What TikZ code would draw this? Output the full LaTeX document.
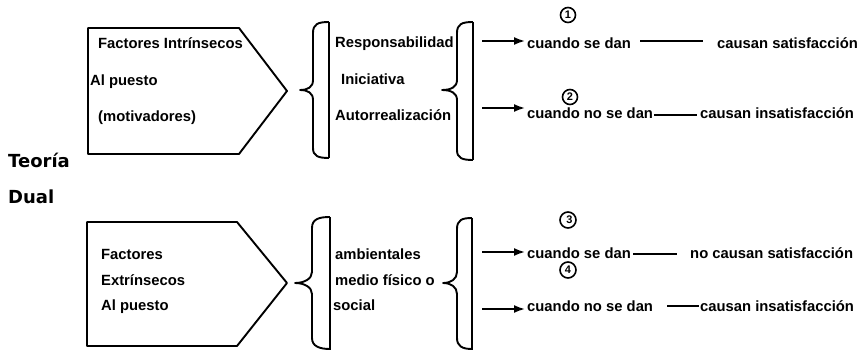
\documentclass[tikz,border=0pt]{standalone}
\usepackage{fontspec}
\setmainfont{Liberation Sans}
\newfontfamily\titlefont{DejaVu Sans}
\usetikzlibrary{arrows.meta}
\begin{document}
\begin{tikzpicture}[x=1pt,y=-1pt,
  txt/.style={font=\fontsize{14.8}{16}\selectfont\bfseries, inner sep=0pt, anchor=west, text height=10.5pt, text depth=3pt},
  ttl/.style={font=\titlefont\fontsize{18}{20}\selectfont\bfseries, inner sep=0pt, anchor=west},
  shp/.style={line width=1.9pt, line join=round},
  arr/.style={line width=1.8pt, -{Latex[length=11pt,width=8pt]}, shorten >=2pt},
  link/.style={line width=1.5pt},
  num/.style={circle, draw, line width=1.6pt, minimum size=15pt, inner sep=0pt, font=\fontsize{11}{11}\selectfont\bfseries}]
\useasboundingbox (0,0) rectangle (867,350);

% pentagons
\draw[shp] (88,28) -- (239,28) -- (287,91) -- (239,154) -- (88,154) -- cycle;
\draw[shp] (87,222) -- (237,222) -- (287,283) -- (237,346) -- (87,346) -- cycle;

% braces
\draw[shp] (329,22) .. controls (318,22) and (313,24) .. (313,33) -- (313,80)
  .. controls (313,87) and (308,90) .. (300,90) .. controls (308,90) and (313,93) .. (313,100)
  -- (313,148) .. controls (313,156) and (318,158) .. (329,158);
\draw[shp] (329,22) -- (329,158);
\draw[shp] (473,22) .. controls (462,22) and (457,24) .. (457,33) -- (457,80)
  .. controls (457,87) and (451,90) .. (442,90) .. controls (451,90) and (457,93) .. (457,100)
  -- (457,150) .. controls (457,158) and (462,160) .. (473,160);
\draw[shp] (473,22) -- (473,160);
\draw[shp] (330,217) .. controls (319,217) and (312,219) .. (312,228) -- (312,272)
  .. controls (312,279) and (304,283) .. (295,283) .. controls (304,283) and (312,287) .. (312,294)
  -- (312,338) .. controls (312,346) and (319,349) .. (330,349);
\draw[shp] (330,217) -- (330,350);
\draw[shp] (472,218) .. controls (462,218) and (457,220) .. (457,229) -- (457,272)
  .. controls (457,279) and (451,283) .. (443,283) .. controls (451,283) and (457,287) .. (457,294)
  -- (457,338) .. controls (457,346) and (462,349) .. (472,349);
\draw[shp] (472,218) -- (472,350);

% titles
\node[ttl] (t1) at (8,160) {Teoría};
\node[ttl] (t2) at (8,197) {Dual};

% left texts
\node[txt] (f1) at (98,45) {Factores Intrínsecos};
\node[txt] (f2) at (90,82) {Al puesto};
\node[txt] (f3) at (98,118) {(motivadores)};
\node[txt] (g1) at (101,256) {Factores};
\node[txt] (g2) at (101,282) {Extrínsecos};
\node[txt] (g3) at (101,307) {Al puesto};

% middle texts
\node[txt] (r1) at (335,44) {Responsabilidad};
\node[txt] (r2) at (341,81) {Iniciativa};
\node[txt] (r3) at (335,117) {Autorrealización};
\node[txt] (m1) at (335,256) {ambientales};
\node[txt] (m2) at (335,282) {medio físico o};
\node[txt] (m3) at (333,307) {social};

% right texts
\node[txt] (c1) at (527,45) {cuando se dan};
\node[txt] (s1) at (717,45) {causan satisfacción};
\node[txt] (c2) at (527,115) {cuando no se dan};
\node[txt] (s2) at (700,115) {causan insatisfacción};
\node[txt] (c3) at (527,255) {cuando se dan};
\node[txt] (s3) at (690,255) {no causan satisfacción};
\node[txt] (c4) at (527,308) {cuando no se dan};
\node[txt] (s4) at (700,308) {causan insatisfacción};

% numbered circles
\node[num] (n1) at (568,15) {1};
\node[num] (n2) at (570,97) {\raisebox{-3pt}{2}};
\node[num, minimum size=16pt] (n3) at (568,220) {\raisebox{-6pt}{\hspace{3pt}3}};
\node[num, minimum size=16pt] (n4) at (568,270) {\raisebox{-7pt}{4}};

% arrows
\coordinate (a1) at (482,41);
\coordinate (a2) at (482,108);
\coordinate (a3) at (482,252);
\coordinate (a4) at (482,309);
\draw[arr] (a1) -- (a1 -| c1.west);
\draw[arr] (a2) -- (a2 -| c2.west);
\draw[arr] (a3) -- (a3 -| c3.west);
\draw[arr] (a4) -- (a4 -| c4.west);

% links
\draw[link] ([xshift=9pt,yshift=4pt]c1.east) -- ([xshift=-14pt,yshift=4pt]s1.west);
\draw[link] ([xshift=1pt]c2.east) -- ([xshift=-3pt]s2.west);
\draw[link] ([xshift=2pt,yshift=1pt]c3.east) -- ([xshift=-13pt,yshift=1pt]s3.west);
\draw[link] ([xshift=14pt,yshift=2pt]c4.east) -- ([xshift=-1pt,yshift=2pt]s4.west);
\end{tikzpicture}
\end{document}
